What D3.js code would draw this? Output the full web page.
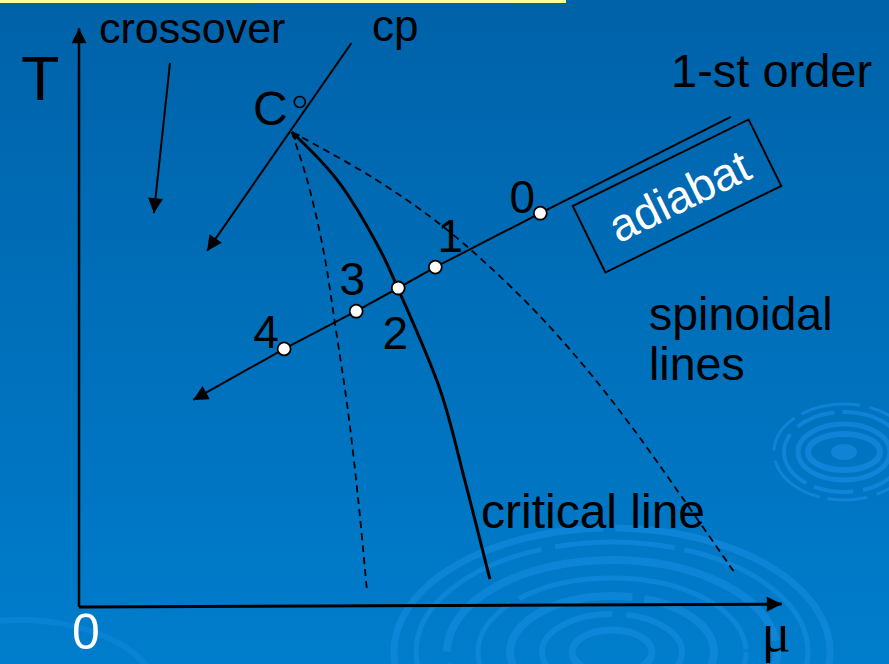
<!DOCTYPE html>
<html><head><meta charset="utf-8">
<script src="https://cdn.jsdelivr.net/npm/d3@7"></script>
<style>html,body{margin:0;padding:0;overflow:hidden;background:#0070bb}</style>
</head><body>
<svg id="c" width="889" height="664"></svg>
<script>
// ---- data (diagram units: mu horizontally, T vertically) ----
const criticalPoint = [3.04, 8.19];
const criticalLine = [[3.04,8.19],[3.69,7.36],[4.30,6.16],[4.56,5.48],[5.16,3.74],[5.51,2.19],[5.87,0.48]];
const spinodalLeft = [[3.04,8.19],[3.26,7.36],[3.49,6.16],[3.67,4.78],[3.84,3.40],[3.99,1.84],[4.11,0.33]];
const spinodalRight = [[3.04,8.19],[4.20,7.40],[5.23,6.53],[6.33,5.33],[7.19,4.19],[7.90,3.10],[8.61,1.90],[9.39,0.55]];
const adiabatPath = [[1.63,3.57],[2.93,4.45],[3.96,5.10],[4.56,5.50],[5.09,5.86],[6.59,6.79],[9.31,8.45]];
const pointLabels = ["4","3","2","1","0"];
const pointMu = [2.93,3.96,4.56,5.09,6.59];
const pointT  = [4.45,5.10,5.50,5.86,6.79];
const crossoverArrow = [[1.30,9.38],[1.07,6.79]];
const cpArrow = [[3.89,9.72],[1.83,6.14]];
const axisEnd = [10.04, 9.98];
const originLabel = "0";
const axisLabels = ["T", "\u03bc"];
const textLabels = ["crossover","cp","C","1-st order","spinoidal","lines","critical line","adiabat"];

// ---- setup ----
const W = 889, H = 664;
const svg = d3.select("#c");
const x = d3.scaleLinear().domain([0,10]).range([79,779]);
const y = d3.scaleLinear().domain([0,10]).range([607,27]);
const font = "'Liberation Sans', Arial, sans-serif";

const defs = svg.append("defs");
const bg = defs.append("linearGradient").attr("id","bg").attr("x1",0).attr("y1",0).attr("x2",0).attr("y2",1);
bg.append("stop").attr("offset","0%").attr("stop-color","#0062a9");
bg.append("stop").attr("offset","100%").attr("stop-color","#007dcc");
function marker(id, len, wid){
  defs.append("marker").attr("id",id).attr("viewBox","0 0 10 10")
    .attr("refX",10).attr("refY",5).attr("markerWidth",len).attr("markerHeight",wid)
    .attr("markerUnits","userSpaceOnUse").attr("orient","auto-start-reverse")
    .append("path").attr("d","M0,0 L10,5 L0,10 Z").attr("fill","#000");
}
marker("arr", 16, 15);
marker("arrS", 9, 8);

svg.append("rect").attr("width",W).attr("height",H).attr("fill","url(#bg)");
svg.append("rect").attr("x",0).attr("y",0).attr("width",566).attr("height",3).attr("fill","#ffff99");

// decorative ripples
const rip = svg.append("g").attr("fill","none");
const bigRings = [[218,124,7],[196,110,5],[165,92,8],[134,74,5],[102,56,8],[70,38,6],[40,22,7]];
bigRings.forEach((r,i)=>{
  rip.append("ellipse").attr("cx",612).attr("cy",652).attr("rx",r[0]).attr("ry",r[1])
    .attr("stroke","#1a8fe6").attr("stroke-opacity",0.5).attr("stroke-width",r[2])
    .attr("stroke-dasharray", i%2 ? "260,14,120,10" : "400,12");
});
const smallRings = [[70,48,3],[60,40,4],[46,28,5],[36,18,6]];
smallRings.forEach((r,i)=>{
  rip.append("ellipse").attr("cx",844).attr("cy",452).attr("rx",r[0]).attr("ry",r[1])
    .attr("stroke","#1a8ee6").attr("stroke-opacity",0.6).attr("stroke-width",r[2])
    .attr("stroke-dasharray", i<2 ? "60,10,40,8" : null);
});
rip.append("ellipse").attr("cx",844).attr("cy",452).attr("rx",13).attr("ry",8)
  .attr("fill","#1a8ee6").attr("fill-opacity",0.6);
rip.append("ellipse").attr("cx",20).attr("cy",700).attr("rx",140).attr("ry",80)
  .attr("stroke","#1a8ee6").attr("stroke-opacity",0.35).attr("stroke-width",6);

// axes
const g = svg.append("g");
g.append("line").attr("x1",x(0)).attr("y1",y(0)).attr("x2",x(0)).attr("y2",y(axisEnd[1]))
  .attr("stroke","#000").attr("stroke-width",2.5).attr("marker-end","url(#arr)");
g.append("line").attr("x1",x(0)).attr("y1",y(0)).attr("x2",x(axisEnd[0])).attr("y2",y(0.05))
  .attr("stroke","#000").attr("stroke-width",3).attr("marker-end","url(#arr)");

const line = d3.line().x(d=>x(d[0])).y(d=>y(d[1])).curve(d3.curveCatmullRom.alpha(0.5));
const straight = d3.line().x(d=>x(d[0])).y(d=>y(d[1]));

g.append("path").attr("d",line(spinodalLeft)).attr("fill","none").attr("stroke","#000")
  .attr("stroke-width",1.8).attr("stroke-dasharray","7,5");
g.append("path").attr("d",line(spinodalRight)).attr("fill","none").attr("stroke","#000")
  .attr("stroke-width",1.8).attr("stroke-dasharray","7,5");
g.append("path").attr("d",line(criticalLine)).attr("fill","none").attr("stroke","#000")
  .attr("stroke-width",3).attr("marker-start","url(#arrS)");

// annotation arrows
g.append("path").attr("d",straight(crossoverArrow)).attr("stroke","#000").attr("stroke-width",2)
  .attr("marker-end","url(#arr)");
g.append("path").attr("d",straight(cpArrow)).attr("stroke","#000").attr("stroke-width",2)
  .attr("marker-end","url(#arr)");

// adiabat
g.append("path").attr("d",straight(adiabatPath)).attr("fill","none").attr("stroke","#000")
  .attr("stroke-width",2).attr("marker-start","url(#arr)");
const labelOffsets = [[-18,-1],[-4,-16],[-3,61],[15,-15],[-18,0]];
pointLabels.forEach((lab,i)=>{
  g.append("circle").attr("cx",x(pointMu[i])).attr("cy",y(pointT[i])).attr("r",6.5)
    .attr("fill","#fff").attr("stroke","#000").attr("stroke-width",1.8);
  g.append("text").attr("x",x(pointMu[i])+labelOffsets[i][0]).attr("y",y(pointT[i])+labelOffsets[i][1])
    .attr("text-anchor","middle").attr("font-family",font).attr("font-size",46).attr("fill","#000").text(lab);
});

// critical point marker
g.append("circle").attr("cx",x(criticalPoint[0])+8).attr("cy",y(criticalPoint[1])-30).attr("r",5.5)
  .attr("fill","none").attr("stroke","#000").attr("stroke-width",1.6);

// adiabat box
const bx = g.append("g").attr("transform","translate(677,196) rotate(-26.2)");
bx.append("rect").attr("x",-98).attr("y",-37).attr("width",196).attr("height",74)
  .attr("fill","none").attr("stroke","#000").attr("stroke-width",2);
bx.append("text").attr("x",2).attr("y",1).attr("text-anchor","middle").attr("dominant-baseline","central")
  .attr("font-family",font).attr("font-size",46).attr("fill","#fff").text(textLabels[7]);

// texts
function txt(s, px, py, size, opts={}){
  const t = g.append("text").attr("x",px).attr("y",py).attr("font-family",opts.family||font)
    .attr("font-size",size).attr("fill",opts.fill||"#000").text(s);
  if(opts.anchor) t.attr("text-anchor",opts.anchor);
  return t;
}
txt(axisLabels[0], 21, 100, 63);
txt(textLabels[0], 99, 43, 43);
txt(textLabels[1], 372, 41, 44);
txt(textLabels[2], 253, 125, 48);
txt(textLabels[3], 671, 87, 47);
txt(textLabels[4], 649, 330, 46.5);
txt(textLabels[5], 649, 380, 46.5);
txt(textLabels[6], 481, 528, 48);
txt(originLabel, 86, 649, 50, {fill:"#fff", anchor:"middle"});
txt(axisLabels[1], 776, 651, 54, {anchor:"middle", family:"'Liberation Serif', 'Times New Roman', serif"});
</script>
</body></html>
